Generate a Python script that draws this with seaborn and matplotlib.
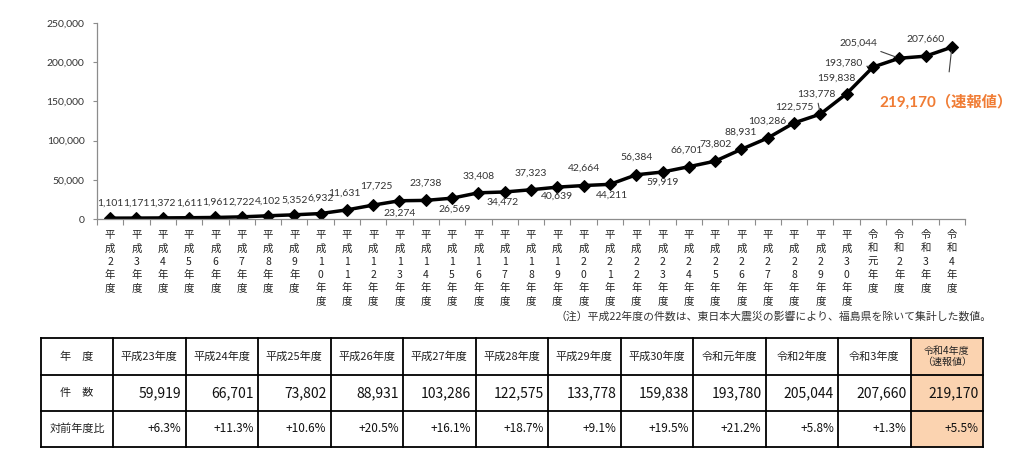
import numpy as np
import pandas as pd
import matplotlib
matplotlib.use('Agg')
import matplotlib.pyplot as plt
from matplotlib.patches import Rectangle
from matplotlib.ticker import FuncFormatter
import seaborn as sns

# ---------------- data ----------------
years = ['平成2年度', '平成3年度', '平成4年度', '平成5年度', '平成6年度', '平成7年度',
         '平成8年度', '平成9年度', '平成10年度', '平成11年度', '平成12年度', '平成13年度',
         '平成14年度', '平成15年度', '平成16年度', '平成17年度', '平成18年度', '平成19年度',
         '平成20年度', '平成21年度', '平成22年度', '平成23年度', '平成24年度', '平成25年度',
         '平成26年度', '平成27年度', '平成28年度', '平成29年度', '平成30年度',
         '令和元年度', '令和2年度', '令和3年度', '令和4年度']
counts = [1101, 1171, 1372, 1611, 1961, 2722, 4102, 5352, 6932, 11631, 17725, 23274,
          23738, 26569, 33408, 34472, 37323, 40639, 42664, 44211, 56384, 59919, 66701,
          73802, 88931, 103286, 122575, 133778, 159838, 193780, 205044, 207660, 219170]
latest_label = '219,170（速報値）'
note = '（注）平成22年度の件数は、東日本大震災の影響により、福島県を除いて集計した数値。'

table_years = ['平成23年度', '平成24年度', '平成25年度', '平成26年度', '平成27年度',
               '平成28年度', '平成29年度', '平成30年度', '令和元年度', '令和2年度',
               '令和3年度', '令和4年度\n（速報値）']
table_counts = [59919, 66701, 73802, 88931, 103286, 122575, 133778, 159838, 193780,
                205044, 207660, 219170]
table_ratio = [6.3, 11.3, 10.6, 20.5, 16.1, 18.7, 9.1, 19.5, 21.2, 5.8, 1.3, 5.5]
row_headers = ['年　度', '件　数', '対前年度比']

# label offsets in pixels (dx, dy up) and leader flags (layout only)
label_offsets = [(0, 15)] * 9 + [
    (-3, 17), (3, 19), (0, -12), (0, 17), (3, -11), (0, 17), (-2, -10), (0, 17),
    (0, -9), (0, 17), (2, -11), (0, 18), (0, -10), (-2, 17), (0, 17), (-1, 17),
    (0, 17), (0, 16), (-4, 20), (-10, 15), (-30, 4), (-41, 15), (0, 17)]
leaders = {27, 29, 30}

# ---------------- style ----------------
sns.set_theme(style='ticks')
CJK = 'Noto Sans CJK JP'
plt.rcParams['font.family'] = ['Lato', CJK, 'DejaVu Sans']

W, H = 1024, 455
fig = plt.figure(figsize=(W / 100, H / 100), dpi=100)

# table canvas (pixel coords)
tax = fig.add_axes([0, 0, 1, 1])
tax.set_xlim(0, W)
tax.set_ylim(H, 0)
tax.axis('off')

# main chart axes
ax = fig.add_axes([97 / W, 1 - 219 / H, (965 - 97) / W, (219 - 23) / H])
n = len(counts)
df = pd.DataFrame({'x': np.arange(n), 'y': counts})
sns.lineplot(data=df, x='x', y='y', ax=ax, color='black', lw=2.5, marker='D',
             markersize=6.5, markeredgecolor='black', markerfacecolor='black')
ax.set_xlim(-0.5, n - 0.5)
ax.set_ylim(0, 250000)
ax.set_yticks(np.arange(0, 250001, 50000))
ax.yaxis.set_major_formatter(FuncFormatter(lambda v, p: f'{int(v):,}'))
ax.set_xticks(np.arange(n))
ax.set_xticklabels(['\n'.join(y) for y in years], family=[CJK], fontsize=7.5,
                   color='#222222', linespacing=1.4)
ax.set_xticks(np.arange(-0.5, n), minor=True)
ax.tick_params(axis='x', which='major', length=0, pad=8)
ax.tick_params(axis='x', which='minor', length=4, width=0.8, color='#8c8c8c', direction='out')
ax.tick_params(axis='y', length=3, width=0.8, color='#8c8c8c', labelsize=7.5,
               labelcolor='#333333', pad=6)
for lab in ax.get_yticklabels():
    lab.set_family(['Lato', CJK])
ax.set_xlabel('')
ax.set_ylabel('')
for s in ['top', 'right']:
    ax.spines[s].set_visible(False)
for s in ['left', 'bottom']:
    ax.spines[s].set_color('#8c8c8c')
    ax.spines[s].set_linewidth(0.9)

# data labels
for i, v in enumerate(counts[:-1]):
    dx, dy = label_offsets[i]
    kw = {}
    if i in leaders:
        kw['arrowprops'] = dict(arrowstyle='-', color='#404040', lw=0.8, shrinkA=1, shrinkB=3)
    ax.annotate(f'{v:,}', (i, v), xytext=(dx, dy), textcoords='offset pixels',
                ha='center', va='center', fontsize=7.5, color='#333333', **kw)

ax.annotate(latest_label, (n - 1, counts[-1]), xytext=(-6, -55), textcoords='offset pixels',
            ha='center', va='center', fontsize=11, fontweight='bold', color='#F07C34',
            family=['Lato', CJK], annotation_clip=False,
            arrowprops=dict(arrowstyle='-', color='#404040', lw=0.8, shrinkA=14, shrinkB=3))

# note
tax.text(992, 316, note, ha='right', va='center', fontsize=7.8, color='#333333', family=[CJK])

# ---------------- table ----------------
col_edges = [41, 113] + [113 + 72.5 * (k + 1) for k in range(len(table_years))]
row_edges = [338, 375, 411, 447]
tax.add_patch(Rectangle((col_edges[-2], row_edges[0]), col_edges[-1] - col_edges[-2],
                        row_edges[-1] - row_edges[0], facecolor='#FBD3B0', edgecolor='none'))
for y in row_edges:
    tax.plot([col_edges[0], col_edges[-1]], [y, y], color='black', lw=1.3, solid_capstyle='projecting')
for x in col_edges:
    tax.plot([x, x], [row_edges[0], row_edges[-1]], color='black', lw=1.3, solid_capstyle='projecting')

for r, t in enumerate(row_headers):
    tax.text((col_edges[0] + col_edges[1]) / 2, (row_edges[r] + row_edges[r + 1]) / 2, t,
             ha='center', va='center', fontsize=8, color='#222222', family=[CJK])
for j in range(len(table_years)):
    x0, x1 = col_edges[j + 1], col_edges[j + 2]
    last = j == len(table_years) - 1
    tax.text((x0 + x1) / 2, (row_edges[0] + row_edges[1]) / 2, table_years[j],
             ha='center', va='center', fontsize=7.2 if last else 8, color='#222222',
             family=[CJK], linespacing=1.1)
    tax.text(x1 - 4, (row_edges[1] + row_edges[2]) / 2, f'{table_counts[j]:,}',
             ha='right', va='center', fontsize=10, color='#111111', family=[CJK])
    tax.text(x1 - 4, (row_edges[2] + row_edges[3]) / 2, f'+{table_ratio[j]:.1f}%',
             ha='right', va='center', fontsize=8.5, color='#111111', family=[CJK])

fig.savefig('out.png', dpi=100)
